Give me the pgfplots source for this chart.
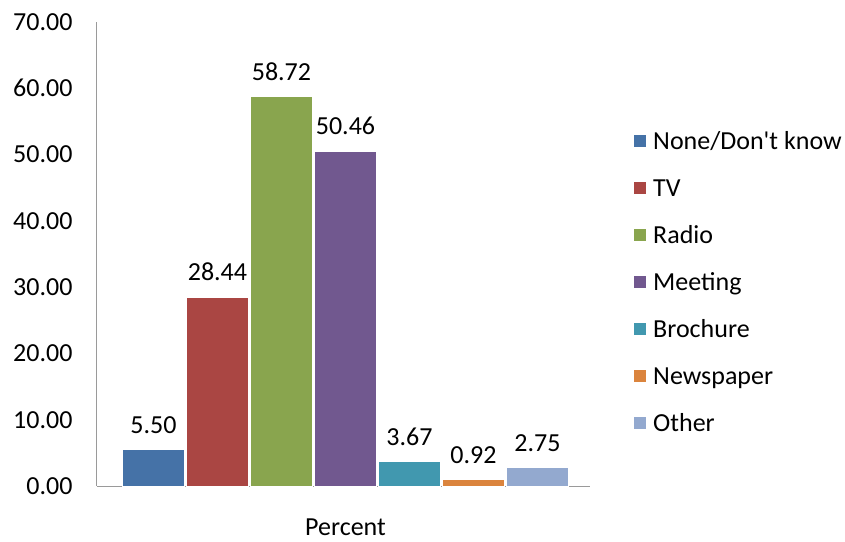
\documentclass[border=0pt]{standalone}
\usepackage{fontspec}
\usepackage{pgfplots}
\pgfplotsset{compat=1.18}
\newfontfamily\calib{Carlito}
\newcommand\chartfont{\calib\fontsize{26}{31}\selectfont}
\definecolor{cNone}{HTML}{4572A7}
\definecolor{cTV}{HTML}{AA4643}
\definecolor{cRadio}{HTML}{89A54E}
\definecolor{cMeet}{HTML}{71588F}
\definecolor{cBroch}{HTML}{4198AF}
\definecolor{cNews}{HTML}{DB843D}
\definecolor{cOther}{HTML}{93A9CF}
\definecolor{axisgrey}{HTML}{9A9A9A}
\pgfplotsset{
  mybar/.style={fill=#1, draw=white, line width=1pt,
    legend image code/.code={\fill[#1] (0pt,-5.5pt) rectangle (11pt,5.5pt);}}
}
\begin{document}
\begin{tikzpicture}[font=\chartfont]
\useasboundingbox (-97pt,-55pt) rectangle (748pt,486pt);
\begin{axis}[
  at={(0pt,0pt)}, anchor=south west,
  scale only axis, width=493pt, height=464pt,
  ybar=2pt, bar width=62pt,
  enlargelimits=false,
  xmin=-0.504, xmax=0.496, ymin=0, ymax=70,
  xtick={0}, xticklabels={Percent},
  ytick={0,10,...,70},
  axis lines*=left,
  axis line style={draw=axisgrey, line width=1pt, -},
  major tick length=0pt,
  tick label style={font=\chartfont, black},
  yticklabel style={xshift=-21pt},
  xticklabel style={yshift=-29pt},
  /pgf/number format/fixed,
  /pgf/number format/fixed zerofill,
  /pgf/number format/precision=2,
  /pgf/number format/assume math mode=true,
  nodes near coords,
  nodes near coords style={font=\chartfont, black, yshift=12.5pt},
  legend cell align=left,
  legend style={draw=none, fill=none, at={(1.0893,0.7942)}, anchor=north west,
    inner xsep=0pt, inner ysep=0pt, column sep=5pt, row sep=0pt, font=\chartfont,
    nodes={inner sep=2pt, text height=29.9pt, text depth=13.1pt}},
]
\addplot[mybar=cNone]  coordinates {(0,5.50)};
\addplot[mybar=cTV]    coordinates {(0,28.44)};
\addplot[mybar=cRadio] coordinates {(0,58.72)};
\addplot[mybar=cMeet]  coordinates {(0,50.46)};
\addplot[mybar=cBroch] coordinates {(0,3.67)};
\addplot[mybar=cNews]  coordinates {(0,0.92)};
\addplot[mybar=cOther] coordinates {(0,2.75)};
\legend{None/Don't know, TV, Radio, Meeting, Brochure, Newspaper, Other}
\end{axis}
\end{tikzpicture}
\end{document}
